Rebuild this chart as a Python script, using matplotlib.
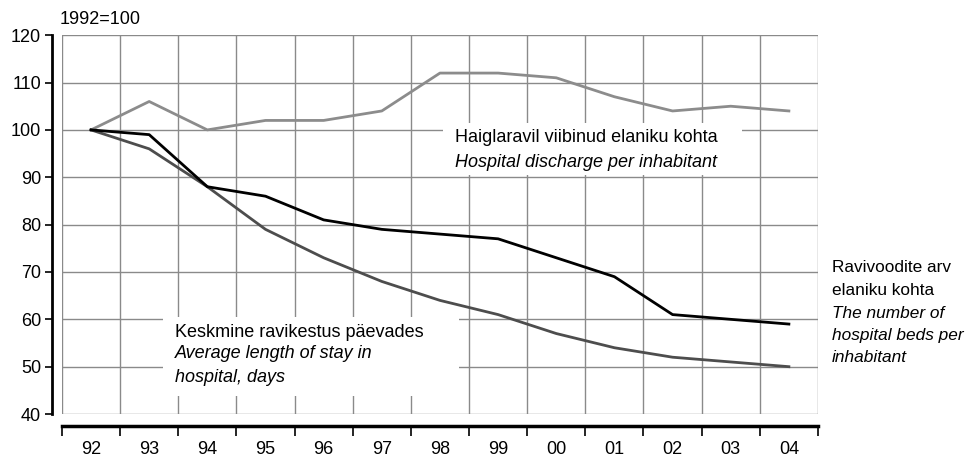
"""Haiglaravi näitajad, 1992=100"""

import matplotlib
matplotlib.use("Agg")
matplotlib.rcParams["font.family"] = ["Liberation Sans", "DejaVu Sans"]

import matplotlib.pyplot as plt

years = ["92", "93", "94", "95", "96", "97", "98", "99", "00", "01", "02", "03", "04"]
discharge = [100, 106, 100, 102, 102, 104, 112, 112, 111, 107, 104, 105, 104]
beds = [100, 99, 88, 86, 81, 79, 78, 77, 73, 69, 61, 60, 59]
stay = [100, 96, 88, 79, 73, 68, 64, 61, 57, 54, 52, 51, 50]
y_ticks = [40, 50, 60, 70, 80, 90, 100, 110, 120]

GRID = "#8a8a8a"
FS = 13

fig = plt.figure(figsize=(9.68, 4.57), dpi=100)
ax = fig.add_axes([0.064, 0.094, 0.781, 0.829])

x = list(range(len(years)))
ax.plot(x, discharge, color="#8c8c8c", linewidth=2.0, zorder=4)
ax.plot(x, stay, color="#4d4d4d", linewidth=2.0, zorder=4)
ax.plot(x, beds, color="#000000", linewidth=2.0, zorder=5)

ax.set_xlim(-0.5, len(years) - 0.5)
ax.set_ylim(40, 120)

# x: jooned kategooriate piiril, sildid keskel
ax.set_xticks([i - 0.5 for i in range(len(years) + 1)])
ax.set_xticklabels([])
ax.set_xticks(x, minor=True)
ax.set_xticklabels(years, minor=True)
ax.tick_params(axis="x", which="major", length=7, width=1.2, direction="out", color="black")
ax.tick_params(axis="x", which="minor", length=0, pad=11, labelsize=FS)

ax.set_yticks(y_ticks)
ax.tick_params(axis="y", length=5, width=1.2, direction="out", labelsize=FS, pad=3)

ax.grid(True, which="major", color=GRID, linewidth=1.0)
ax.set_axisbelow(True)
# välimised vertikaaljooned heledamad
xgl = ax.get_xgridlines()
for g in (xgl[0], xgl[-1]):
    g.set_color("#b8b8b8")
    g.set_linewidth(1.6)

for side in ["top", "right"]:
    ax.spines[side].set_visible(False)
ax.spines["left"].set_position(("outward", 7))
ax.spines["left"].set_linewidth(2.0)
ax.spines["bottom"].set_position(("outward", 8.5))
ax.spines["bottom"].set_linewidth(2.5)

fig.text(0.062, 0.957, "1992=100", fontsize=FS, va="center", ha="left")

# Haiglaravil
ax.add_patch(plt.Rectangle((6.06, 90.4), 5.14, 11.1, facecolor="white",
                           edgecolor="none", zorder=3))
ax.text(6.26, 98.5, "Haiglaravil viibinud elaniku kohta", fontsize=FS,
        va="center", ha="left", zorder=6)
ax.text(6.26, 93.2, "Hospital discharge per inhabitant", fontsize=FS,
        style="italic", va="center", ha="left", zorder=6)

# Keskmine ravikestus
ax.add_patch(plt.Rectangle((1.24, 43.8), 5.09, 16.6, facecolor="white",
                           edgecolor="none", zorder=3))
ax.text(1.44, 57.3, "Keskmine ravikestus päevades", fontsize=FS,
        va="center", ha="left", zorder=6)
ax.text(1.44, 52.8, "Average length of stay in", fontsize=FS,
        style="italic", va="center", ha="left", zorder=6)
ax.text(1.44, 47.8, "hospital, days", fontsize=FS,
        style="italic", va="center", ha="left", zorder=6)

# Ravivoodite arv (paremal väljaspool)
right_lines = [("Ravivoodite arv", "normal"), ("elaniku kohta", "normal"),
               ("The number of", "italic"), ("hospital beds per", "italic"),
               ("inhabitant", "italic")]
for i, (txt, st) in enumerate(right_lines):
    fig.text(0.859, 1 - (268 + i * 22.5) / 457, txt, fontsize=12.4, style=st,
             va="center", ha="left")

fig.savefig("out.png", dpi=100)
